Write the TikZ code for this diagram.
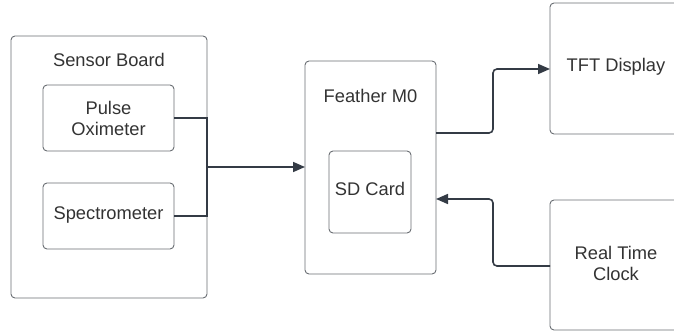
\documentclass[tikz,border=0pt]{standalone}
\usepackage{fontspec}
\setmainfont{Liberation Sans}
\usetikzlibrary{arrows.meta}
\definecolor{boxline}{HTML}{6A6E73}
\definecolor{wire}{HTML}{343B45}
\definecolor{label}{HTML}{333333}
\tikzset{
  block/.style={draw=boxline, line width=0.9pt, rounded corners=4pt, fill=white},
  txt/.style={text=label, font=\fontsize{18.3}{21}\selectfont, align=center, inner sep=0pt},
  wireline/.style={draw=wire, line width=1.6pt, rounded corners=4pt},
  flow/.style={wireline, -{Triangle[length=12pt,width=10pt]}}
}
\begin{document}
\begin{tikzpicture}[x=1pt,y=-1pt]
  \useasboundingbox (0,0) rectangle (674,331);
  \clip (0,0) rectangle (674,331);

  % sensor board with its two sensors
  \draw[block] (11,36) rectangle (207,298);
  \node[txt] (sbl) at (109,60) {Sensor Board};
  \draw[block] (43,85) rectangle (174,151);
  \node[txt] (pulse) at (108.5,118) {Pulse\\Oximeter};
  \draw[block] (43,183) rectangle (174,249);
  \node[txt] (spec) at (108.5,215) {Spectrometer};
  \coordinate (pulseR) at (174,118);
  \coordinate (specR) at (174,216);
  \coordinate (join) at (207,167);

  % microcontroller with SD card
  \draw[block] (305,61) rectangle (436,274);
  \node[txt] (fm) at (370.5,96) {Feather M0};
  \draw[block] (329,151) rectangle (411,233);
  \node[txt] (sd) at (370,189) {SD Card};
  \coordinate (fmL) at (305,167);
  \coordinate (fmOut) at (436,133);
  \coordinate (fmIn) at (436,199);

  % peripherals
  \draw[block] (550,3) rectangle (682,134);
  \node[txt] (tft) at (616,67) {TFT Display};
  \coordinate (tftL) at (550,69);
  \draw[block] (550,200) rectangle (682,330);
  \node[txt] (rtc) at (616,263) {Real Time\\Clock};
  \coordinate (rtcL) at (550,266);

  % connectors
  \draw[wireline, rounded corners=0pt] (pulseR) -| (join |- specR) -- (specR);
  \draw[flow] (join) -- (fmL);
  \draw[flow] (fmOut) -- (493,133) -- (493,69) -- (tftL);
  \draw[flow] (rtcL) -- (493,266) -- (493,199) -- (fmIn);
\end{tikzpicture}
\end{document}
